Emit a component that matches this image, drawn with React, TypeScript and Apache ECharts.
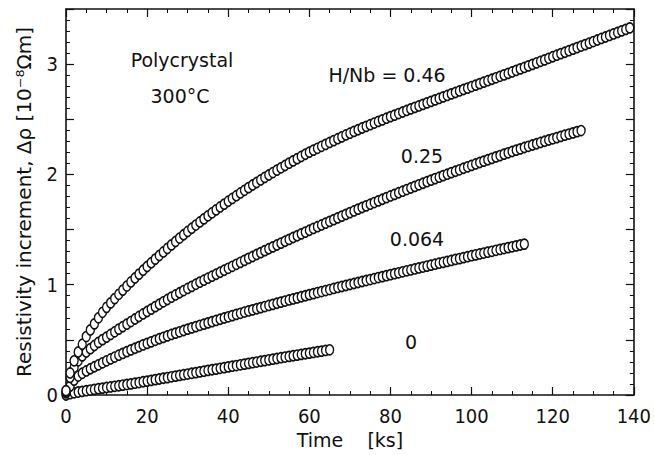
import React, { useEffect, useRef } from "react";
import * as echarts from "echarts";

// Resistivity increment Δρ [10^-8 Ωm] logged every 1 ks from t = 0 ks, one list per H/Nb ratio.
const SAMPLE_STEP_KS = 1;

const rhoHNb046 = [
  0.04, 0.2, 0.31, 0.39, 0.46, 0.53, 0.59, 0.645, 0.7, 0.75,
  0.795, 0.835, 0.874, 0.913, 0.951, 0.988, 1.025, 1.061, 1.096, 1.131,
  1.165, 1.199, 1.232, 1.265, 1.297, 1.329, 1.361, 1.392, 1.423, 1.453,
  1.483, 1.512, 1.541, 1.569, 1.597, 1.625, 1.652, 1.679, 1.705, 1.731,
  1.757, 1.782, 1.807, 1.832, 1.856, 1.88, 1.904, 1.927, 1.95, 1.973,
  1.995, 2.017, 2.039, 2.06, 2.081, 2.102, 2.123, 2.143, 2.163, 2.183,
  2.202, 2.22, 2.237, 2.255, 2.272, 2.29, 2.307, 2.324, 2.341, 2.358,
  2.374, 2.39, 2.405, 2.421, 2.436, 2.451, 2.466, 2.481, 2.495, 2.51,
  2.524, 2.538, 2.552, 2.566, 2.58, 2.594, 2.608, 2.621, 2.635, 2.649,
  2.662, 2.676, 2.689, 2.703, 2.716, 2.73, 2.743, 2.757, 2.77, 2.783,
  2.797, 2.81, 2.823, 2.837, 2.85, 2.863, 2.876, 2.89, 2.903, 2.916,
  2.929, 2.943, 2.957, 2.97, 2.984, 2.998, 3.012, 3.026, 3.039, 3.053,
  3.067, 3.081, 3.095, 3.108, 3.122, 3.136, 3.15, 3.164, 3.177, 3.191,
  3.205, 3.219, 3.233, 3.246, 3.26, 3.274, 3.288, 3.302, 3.315, 3.329,
];

const rhoHNb025 = [
  0.03, 0.16, 0.25, 0.31, 0.355, 0.39, 0.42, 0.449, 0.477, 0.502,
  0.525, 0.549, 0.573, 0.597, 0.62, 0.643, 0.666, 0.689, 0.712, 0.735,
  0.757, 0.779, 0.801, 0.823, 0.845, 0.866, 0.887, 0.907, 0.927, 0.947,
  0.966, 0.985, 1.004, 1.023, 1.041, 1.059, 1.077, 1.095, 1.113, 1.131,
  1.149, 1.167, 1.185, 1.203, 1.221, 1.239, 1.256, 1.274, 1.291, 1.309,
  1.326, 1.343, 1.36, 1.377, 1.394, 1.411, 1.428, 1.444, 1.461, 1.477,
  1.494, 1.51, 1.526, 1.542, 1.558, 1.574, 1.59, 1.606, 1.622, 1.638,
  1.654, 1.669, 1.685, 1.7, 1.715, 1.73, 1.745, 1.76, 1.775, 1.79,
  1.805, 1.819, 1.834, 1.848, 1.863, 1.877, 1.892, 1.906, 1.92, 1.934,
  1.948, 1.962, 1.975, 1.989, 2.002, 2.016, 2.029, 2.042, 2.056, 2.069,
  2.082, 2.095, 2.108, 2.121, 2.133, 2.146, 2.159, 2.171, 2.184, 2.196,
  2.208, 2.22, 2.232, 2.244, 2.255, 2.267, 2.278, 2.29, 2.301, 2.312,
  2.323, 2.334, 2.345, 2.356, 2.366, 2.377, 2.388, 2.398,
];

const rhoHNb0064 = [
  0.02, 0.08, 0.135, 0.172, 0.197, 0.218, 0.238, 0.256, 0.274, 0.292,
  0.31, 0.327, 0.344, 0.361, 0.377, 0.393, 0.409, 0.424, 0.439, 0.454,
  0.468, 0.482, 0.496, 0.51, 0.523, 0.536, 0.549, 0.561, 0.573, 0.585,
  0.597, 0.609, 0.62, 0.632, 0.643, 0.654, 0.665, 0.676, 0.687, 0.698,
  0.709, 0.72, 0.731, 0.741, 0.752, 0.762, 0.772, 0.782, 0.792, 0.802,
  0.812, 0.822, 0.832, 0.842, 0.852, 0.862, 0.871, 0.881, 0.891, 0.9,
  0.91, 0.919, 0.929, 0.938, 0.947, 0.956, 0.966, 0.975, 0.984, 0.993,
  1.002, 1.011, 1.02, 1.029, 1.038, 1.047, 1.056, 1.065, 1.073, 1.082,
  1.091, 1.1, 1.108, 1.117, 1.126, 1.134, 1.143, 1.152, 1.16, 1.169,
  1.178, 1.186, 1.195, 1.203, 1.212, 1.22, 1.229, 1.237, 1.246, 1.254,
  1.263, 1.271, 1.279, 1.287, 1.295, 1.303, 1.312, 1.32, 1.328, 1.336,
  1.344, 1.352, 1.36, 1.368,
];

const rhoHNb0 = [
  0.0, 0.012, 0.02, 0.027, 0.033, 0.039, 0.045, 0.051, 0.057, 0.062,
  0.068, 0.073, 0.079, 0.084, 0.09, 0.095, 0.101, 0.107, 0.113, 0.12,
  0.126, 0.133, 0.139, 0.145, 0.152, 0.158, 0.165, 0.171, 0.178, 0.184,
  0.19, 0.197, 0.203, 0.21, 0.216, 0.223, 0.229, 0.235, 0.242, 0.248,
  0.255, 0.261, 0.267, 0.274, 0.28, 0.287, 0.293, 0.299, 0.306, 0.312,
  0.319, 0.325, 0.331, 0.338, 0.344, 0.35, 0.356, 0.362, 0.368, 0.374,
  0.38, 0.386, 0.392, 0.398, 0.404, 0.41,
];

const seriesNames = ["H/Nb = 0", "H/Nb = 0.064", "H/Nb = 0.25", "H/Nb = 0.46"];
const seriesValues = [rhoHNb0, rhoHNb0064, rhoHNb025, rhoHNb046];

// On-plot annotations: text with its centre position in pixels.
const annotations = [
  { text: "Polycrystal", x: 182, y: 60 },
  { text: "300°C", x: 180, y: 96 },
  { text: "H/Nb = 0.46", x: 387, y: 75 },
  { text: "0.25", x: 422, y: 156 },
  { text: "0.064", x: 417, y: 239 },
  { text: "0", x: 411, y: 342 },
];

const xAxisTitle = "Time    [ks]";
const yAxisTitle = "Resistivity increment, Δρ [10⁻⁸Ωm]";

const TEXT_FONT = "'DejaVu Sans', 'Noto Sans', sans-serif";
const NUM_FONT = "'Liberation Sans Narrow', 'DejaVu Sans Condensed', 'Liberation Sans', sans-serif";
const INK = "#111";

function frameAxis(position: string, withLabels: boolean, extra: any) {
  return {
    type: "value",
    position,
    axisLine: { show: true, onZero: false, lineStyle: { color: INK, width: 1.6 } },
    axisTick: { show: true, inside: true, length: 8, lineStyle: { color: INK, width: 1.2 } },
    minorTick: { show: true, length: 4, lineStyle: { color: INK, width: 1 } },
    splitLine: { show: false },
    axisLabel: { show: withLabels },
    ...extra,
  };
}

export default function App() {
  const ref = useRef<HTMLDivElement>(null);

  useEffect(() => {
    if (!ref.current) return;
    const chart = echarts.init(ref.current, undefined, { renderer: "svg" });

    const xCommon = { min: 0, max: 140, interval: 20 };
    const yCommon = { min: 0, max: 3.5, interval: 0.5 };

    const option: any = {
      animation: false,
      backgroundColor: "#fff",
      grid: { left: 66, right: 15, top: 9, bottom: 60, containLabel: false },
      xAxis: [
        {
          ...frameAxis("bottom", true, xCommon),
          minorTick: { show: true, splitNumber: 4, length: 4, lineStyle: { color: INK, width: 1 } },
          axisLabel: {
            show: true,
            margin: 11,
            color: INK,
            fontFamily: NUM_FONT,
            fontSize: 20,
          },
          name: xAxisTitle,
          nameLocation: "middle",
          nameGap: 33,
          nameTextStyle: { color: INK, fontFamily: TEXT_FONT, fontSize: 19 },
        },
        {
          ...frameAxis("top", false, xCommon),
          minorTick: { show: true, splitNumber: 4, length: 4, lineStyle: { color: INK, width: 1 } },
        },
      ],
      yAxis: [
        {
          ...frameAxis("left", true, yCommon),
          minorTick: { show: true, splitNumber: 5, length: 4, lineStyle: { color: INK, width: 1 } },
          axisLabel: {
            show: true,
            margin: 8,
            color: INK,
            fontFamily: NUM_FONT,
            fontSize: 20,
            formatter: (v: number) => (Number.isInteger(v) ? String(v) : ""),
          },
          name: yAxisTitle,
          nameLocation: "middle",
          nameGap: 32,
          nameTextStyle: { color: INK, fontFamily: TEXT_FONT, fontSize: 20 },
        },
        {
          ...frameAxis("right", false, yCommon),
          minorTick: { show: true, splitNumber: 5, length: 4, lineStyle: { color: INK, width: 1 } },
        },
      ],
      series: seriesValues.map((vals, k) => ({
        type: "scatter",
        name: seriesNames[k],
        xAxisIndex: 0,
        yAxisIndex: 0,
        symbol: "circle",
        symbolSize: [8, 10],
        itemStyle: { color: "#fff", borderColor: INK, borderWidth: 1.5, opacity: 1 },
        emphasis: { disabled: true },
        data: vals.map((v, i) => [i * SAMPLE_STEP_KS, v]),
      })),
      graphic: annotations.map((a) => ({
        type: "text",
        x: a.x,
        y: a.y,
        style: {
          text: a.text,
          fill: INK,
          font: `19px ${TEXT_FONT}`,
          textAlign: "center",
          textVerticalAlign: "middle",
        },
      })),
    };

    chart.setOption(option);
    return () => chart.dispose();
  }, []);

  return (
    <div
      ref={ref}
      style={{ position: "absolute", left: 0, top: 0, width: 654, height: 455 }}
    />
  );
}
